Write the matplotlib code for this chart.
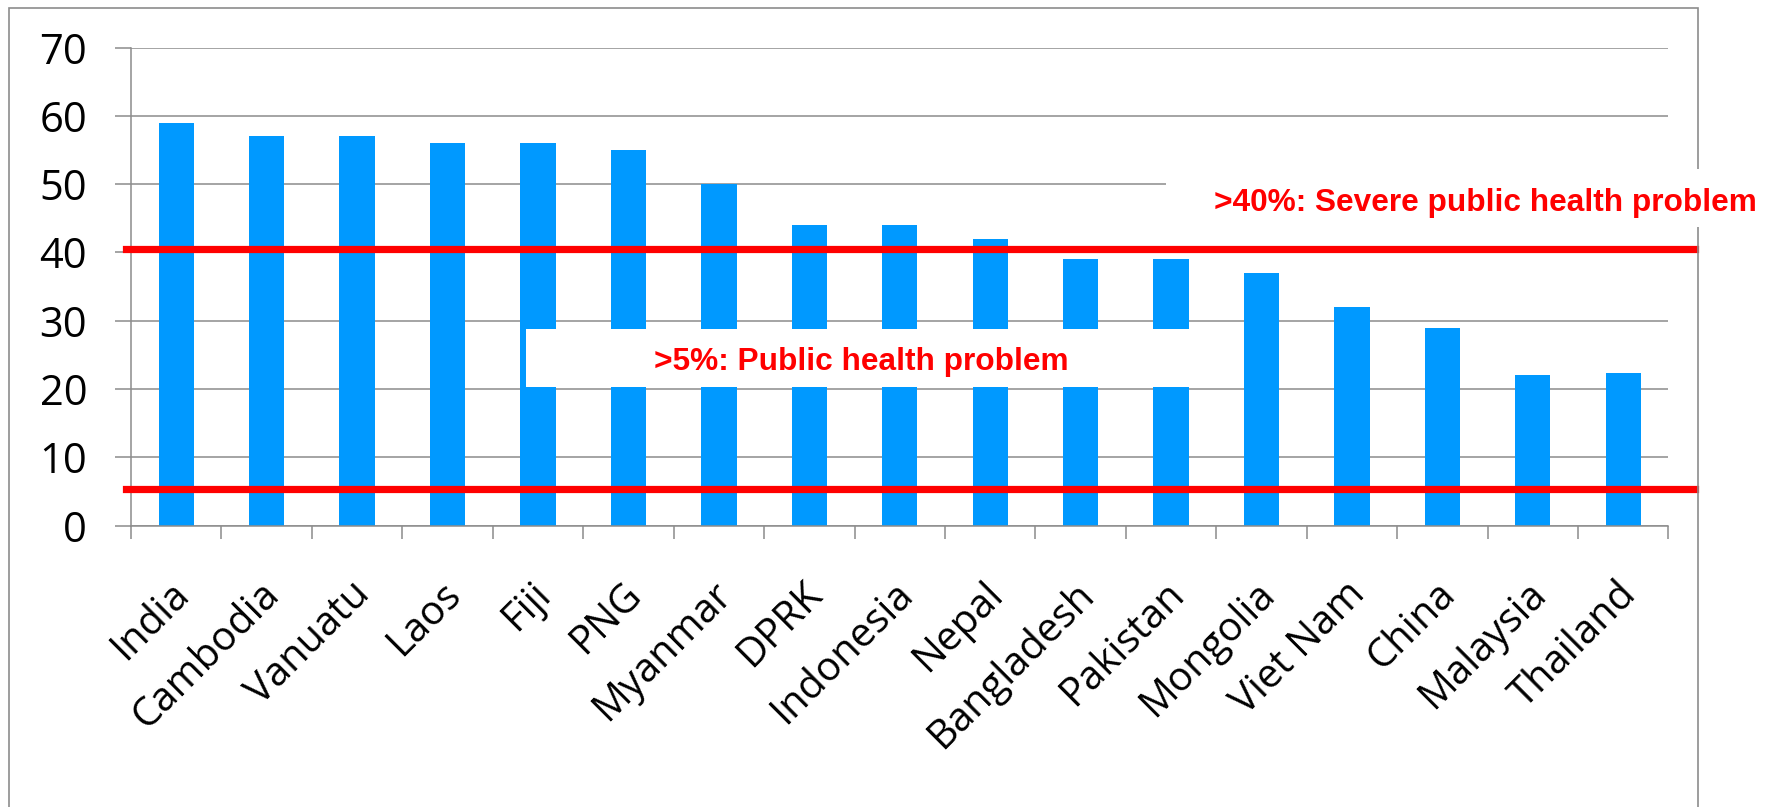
import numpy as np
import matplotlib.pyplot as plt
import matplotlib.transforms as mtransforms
from matplotlib.patches import Rectangle

# data
countries = ['India', 'Cambodia', 'Vanuatu', 'Laos', 'Fiji', 'PNG', 'Myanmar',
             'DPRK', 'Indonesia', 'Nepal', 'Bangladesh', 'Pakistan', 'Mongolia',
             'Viet Nam', 'China', 'Malaysia', 'Thailand']
prevalence = [59, 57, 57, 56, 56, 55, 50, 44, 44, 42, 39, 39, 37, 32, 29, 22.1, 22.4]
y_ticks = [0, 10, 20, 30, 40, 50, 60, 70]
severe_line = 40.5   # drawn slightly above 40 in the original
public_line = 5.4
severe_label = '>40%: Severe public health problem'
public_label = '>5%: Public health problem'

W, H = 1774, 807
BLUE = '#0099FF'
RED = '#FF0000'
GRID = '#8C8C8C'

def fx(px):
    return px / W

def fy(py):
    return 1 - py / H

fig = plt.figure(figsize=(W / 100, H / 100), dpi=100)
ax = fig.add_axes([fx(131), fy(525.7), fx(1668.5) - fx(131), fy(47.5) - fy(525.7)])
ax.set_facecolor('none')

# outer chart frame (bottom runs off the image)
fig.patches.append(Rectangle((fx(9), -0.05), fx(1698) - fx(9), fy(8) + 0.05,
                             transform=fig.transFigure, fill=False,
                             edgecolor=GRID, linewidth=1.2, zorder=0))

x = np.arange(len(countries))
ax.bar(x, prevalence, width=0.39, color=BLUE, zorder=2)

ax.set_xlim(-0.5, len(countries) - 0.5)
ax.set_ylim(0, 70)
ax.set_yticks(y_ticks)
ax.yaxis.grid(True, color=GRID, linewidth=1.1, zorder=1)
ax.set_axisbelow(True)

for side in ['top', 'right']:
    ax.spines[side].set_visible(False)
for side in ['left', 'bottom']:
    ax.spines[side].set_color(GRID)
    ax.spines[side].set_linewidth(1.1)

ax.tick_params(axis='y', length=11.5, width=1.1, color=GRID, pad=20,
               labelsize=30)
for lab in ax.get_yticklabels():
    lab.set_family('Open Sans')

# category boundaries carry the tick marks
ax.set_xticks(np.arange(-0.5, len(countries), 1), minor=True)
ax.tick_params(axis='x', which='minor', length=9.5, width=1.1, color=GRID)
ax.set_xticks(x)
ax.set_xticklabels(countries, rotation=45, ha='right', va='top',
                   rotation_mode='anchor', fontsize=28.8, family='Open Sans')
ax.tick_params(axis='x', which='major', length=0, pad=35)
offset = mtransforms.ScaledTranslation(-7 / 100, 0, fig.dpi_scale_trans)
for lab in ax.get_xticklabels():
    lab.set_transform(lab.get_transform() + offset)

# threshold lines, running slightly past the plot area
ax.axhline(severe_line, xmin=-0.003, xmax=1.017, color=RED, linewidth=5.2,
           clip_on=False, zorder=4)
ax.axhline(public_line, xmin=-0.003, xmax=1.017, color=RED, linewidth=5.2,
           clip_on=False, zorder=4)

# white label boxes
ax.add_patch(Rectangle(((526 - 131) / 1537.5, 20.34 / 70),
                       (1200 - 526) / 1537.5, (28.86 - 20.34) / 70,
                       transform=ax.transAxes, facecolor='white',
                       edgecolor='none', zorder=3))
ax.text((861 - 131) / 1537.5, (525.7 - 369.6) / 478.2, public_label,
        transform=ax.transAxes, ha='center', va='baseline', color=RED,
        fontsize=22.8, fontweight='bold', family='Liberation Sans', zorder=5)

fig.patches.append(Rectangle((fx(1166), fy(227)), 1 - fx(1166), fy(169) - fy(227),
                             transform=fig.transFigure, facecolor='white',
                             edgecolor='none', zorder=5))
fig.text(fx(1485), fy(210.7), severe_label, ha='center', va='baseline',
         color=RED, fontsize=22.8, fontweight='bold', family='Liberation Sans',
         zorder=6)

fig.savefig('out.png', dpi=100)
